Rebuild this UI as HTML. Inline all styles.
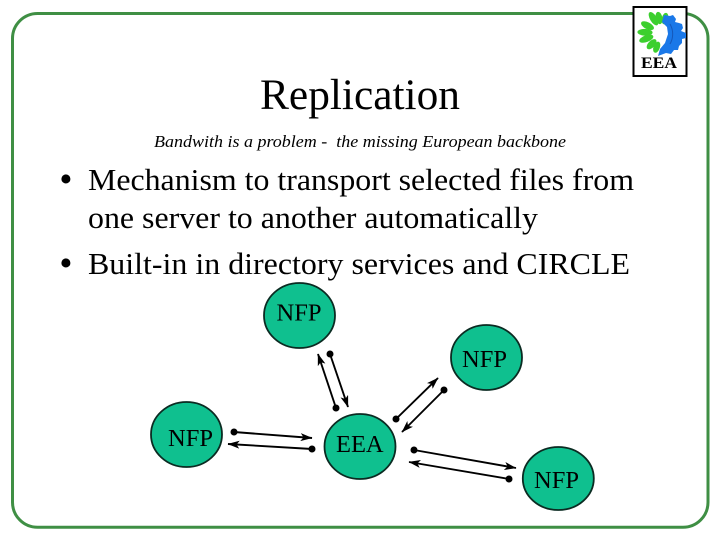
<!DOCTYPE html>
<html><head><meta charset="utf-8"><style>
html,body{margin:0;padding:0;background:#fff}
svg{display:block}
text{font-family:"Liberation Serif",serif;fill:#000}
</style></head><body>
<svg width="720" height="540" viewBox="0 0 720 540" xmlns="http://www.w3.org/2000/svg">
<defs>
<marker id="a" viewBox="0 0 12 8" refX="11.5" refY="4" markerWidth="12" markerHeight="8" markerUnits="userSpaceOnUse" orient="auto"><path d="M0 0L12 4L0 8L3 4Z" fill="#000"/></marker>
</defs>
<rect x="12.5" y="13.5" width="695.5" height="513.8" rx="25" ry="25" fill="#fff" stroke="#3f8f44" stroke-width="3"/>
<rect x="633.5" y="7" width="53" height="69" fill="#fff" stroke="#000" stroke-width="2"/>
<g fill="#3ccf2e">
<ellipse cx="0" cy="0" rx="7.5" ry="3.4" transform="translate(653.5 18.7) rotate(59)"/>
<ellipse cx="0" cy="0" rx="6.2" ry="3.4" transform="translate(659 18) rotate(79)"/>
<ellipse cx="0" cy="0" rx="5.8" ry="3.2" transform="translate(665 18.6) rotate(-78)"/>
<ellipse cx="0" cy="0" rx="7" ry="3.4" transform="translate(647.5 25.7) rotate(27)"/>
<ellipse cx="0" cy="0" rx="7.6" ry="3.4" transform="translate(645 32.3) rotate(2)"/>
<ellipse cx="0" cy="0" rx="7.4" ry="3.4" transform="translate(646.3 38.7) rotate(-20)"/>
<ellipse cx="0" cy="0" rx="6.2" ry="3.4" transform="translate(651.6 44.2) rotate(-47)"/>
<ellipse cx="0" cy="0" rx="5.8" ry="3.2" transform="translate(656.7 47.2) rotate(-70)"/>
</g>
<path d="M664 15L670 16L673 15L676 19L675 22L679 23L682 24L683 28L681 31L686 33L686 38L682 39L682 43L679 46L678 50L674 50L671 54L666 53L658 56L660 49L665 43L668 34L667 27L662 22Z" fill="#1a78e8"/>
<path d="M670 24A20 20 0 0 1 670 44" fill="none" stroke="#1557b8" stroke-width="1"/>
<text x="641" y="68" font-size="16" font-weight="bold" textLength="36" lengthAdjust="spacingAndGlyphs">EEA</text>
<text x="260" y="109" font-size="43" textLength="200" lengthAdjust="spacingAndGlyphs">Replication</text>
<text x="154" y="147" font-size="17" font-style="italic" textLength="412" lengthAdjust="spacingAndGlyphs" xml:space="preserve">Bandwith is a problem -  the missing European backbone</text>
<g font-size="31">
<text x="59.3" y="191.5" font-size="38">•</text>
<text x="88" y="190" textLength="546" lengthAdjust="spacingAndGlyphs">Mechanism to transport selected files from</text>
<text x="88" y="228" textLength="450" lengthAdjust="spacingAndGlyphs">one server to another automatically</text>
<text x="59.3" y="275.5" font-size="38">•</text>
<text x="88" y="274" textLength="542" lengthAdjust="spacingAndGlyphs">Built-in in directory services and CIRCLE</text>
</g>
<g fill="#0fc08f" stroke="#0b2b22" stroke-width="1.8">
<ellipse cx="299.5" cy="315.5" rx="35.5" ry="32.5"/>
<ellipse cx="486.5" cy="357.5" rx="35.5" ry="32.5"/>
<ellipse cx="186.5" cy="434.5" rx="35.5" ry="32.5"/>
<ellipse cx="360" cy="446.5" rx="35.5" ry="32.5"/>
<ellipse cx="558.3" cy="478.5" rx="35.5" ry="31.5"/>
</g>
<g font-size="24.5" fill="#10241e">
<text x="276.5" y="320.5">NFP</text>
<text x="462" y="367">NFP</text>
<text x="168" y="446">NFP</text>
<text x="336" y="452">EEA</text>
<text x="534" y="488">NFP</text>
</g>
<g stroke="#000" stroke-width="1.9" fill="none" marker-end="url(#a)">
<path d="M234 432L312 438"/>
<path d="M312 449L228 444"/>
<path d="M336 408L318 354"/>
<path d="M330 354L348 407"/>
<path d="M396 419L438 378"/>
<path d="M444 390L402 432"/>
<path d="M414 450L516 468"/>
<path d="M509 479L409 462"/>
</g>
<g fill="#000">
<circle cx="234" cy="432" r="3.5"/><circle cx="312" cy="449" r="3.5"/>
<circle cx="336" cy="408" r="3.5"/><circle cx="330" cy="354" r="3.5"/>
<circle cx="396" cy="419" r="3.5"/><circle cx="444" cy="390" r="3.5"/>
<circle cx="414" cy="450" r="3.5"/><circle cx="509" cy="479" r="3.5"/>
</g>
</svg>
</body></html>
